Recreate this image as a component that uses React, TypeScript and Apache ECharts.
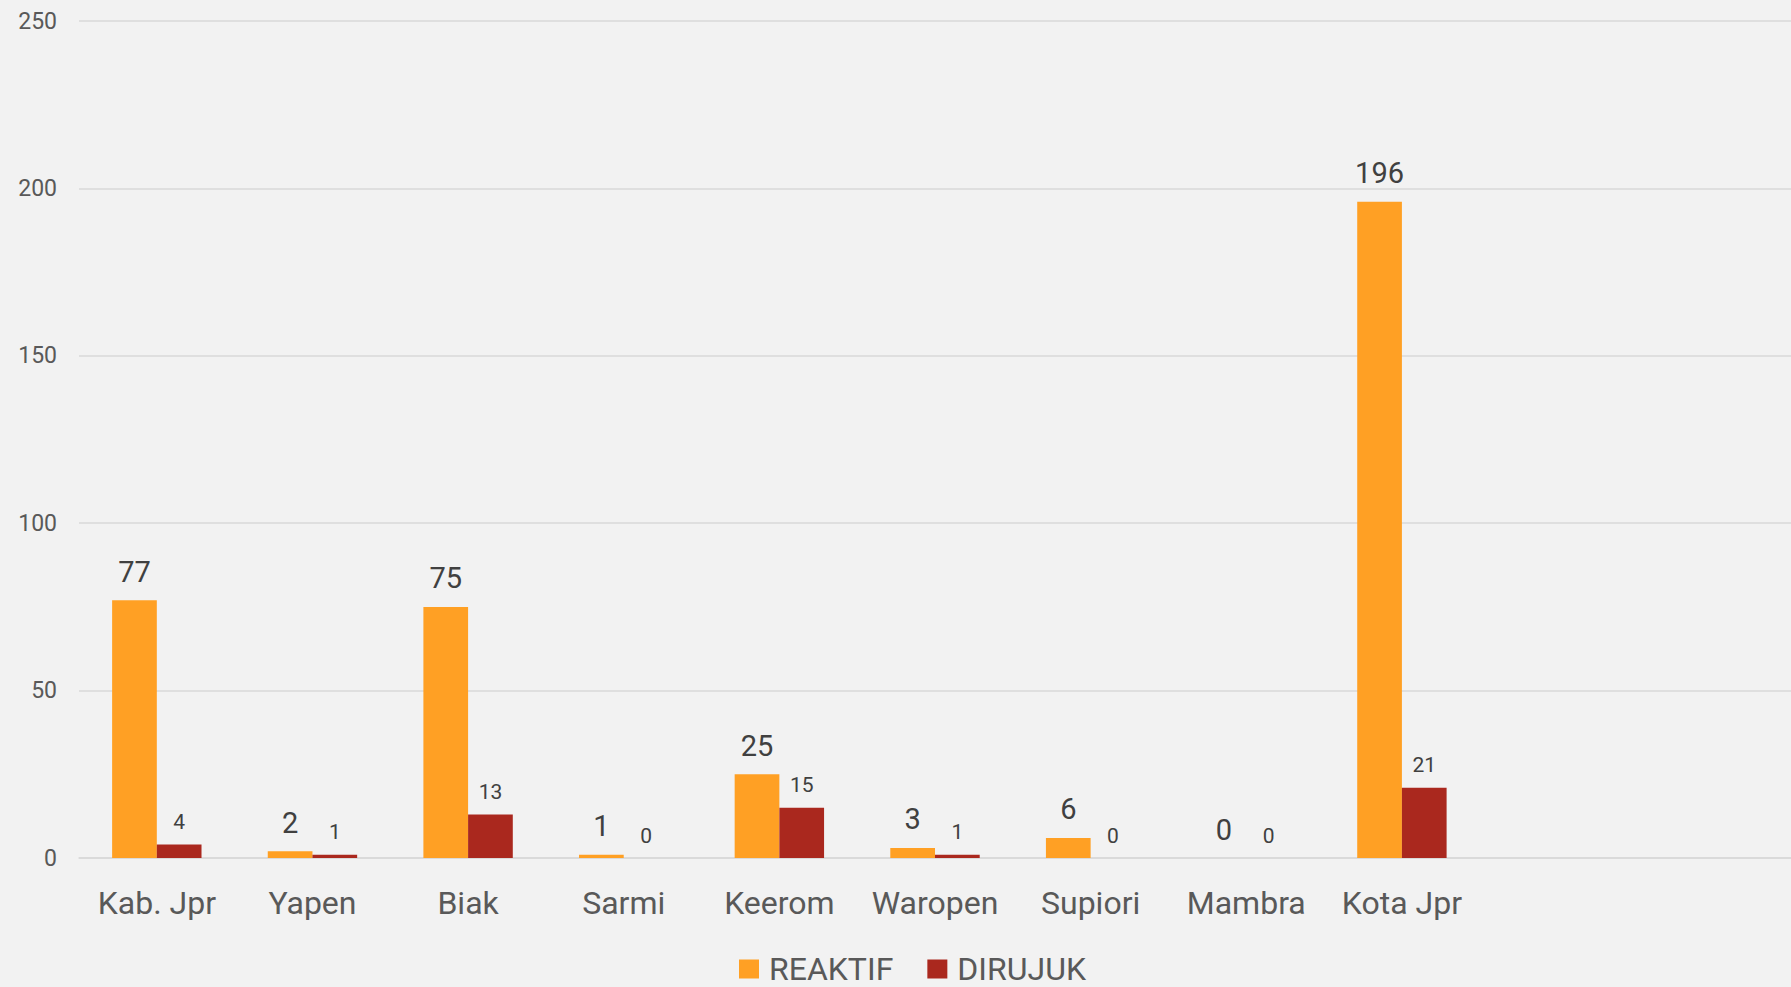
import React, { useEffect, useRef } from "react";
import * as echarts from "echarts";

const categories = ["Kab. Jpr", "Yapen", "Biak", "Sarmi", "Keerom", "Waropen", "Supiori", "Mambra", "Kota Jpr", "", ""];
const reaktif = [77, 2, 75, 1, 25, 3, 6, 0, 196, null, null];
const dirujuk = [4, 1, 13, 0, 15, 1, 0, 0, 21, null, null];
const yTicks = { min: 0, max: 250, interval: 50 };

const FONT = "Roboto, 'Liberation Sans', sans-serif";

export default function App() {
  const ref = useRef<HTMLDivElement>(null);
  useEffect(() => {
    document.body.style.margin = "0";
    document.body.style.background = "#f2f2f2";
    const chart = echarts.init(ref.current!, null, { renderer: "svg" });
    chart.setOption({
      animation: false,
      backgroundColor: "#f2f2f2",
      textStyle: { fontFamily: FONT },
      grid: { left: 79, top: 21, width: 1715, height: 837, containLabel: false },
      legend: {
        left: 734,
        top: 948,
        itemWidth: 20,
        itemHeight: 19,
        itemGap: 34,
        icon: "rect",
        textStyle: { fontSize: 32, color: "#595959", fontFamily: FONT, lineHeight: 30, padding: [0, 0, 0, 5] },
        data: ["REAKTIF", "DIRUJUK"],
      },
      xAxis: {
        type: "category",
        data: categories,
        axisLine: { show: true, lineStyle: { color: "#d9d9d9", width: 1.5 } },
        axisTick: { show: false },
        axisLabel: { fontSize: 32, color: "#595959", margin: 29, fontFamily: FONT, interval: 0 },
      },
      yAxis: {
        type: "value",
        min: yTicks.min,
        max: yTicks.max,
        interval: yTicks.interval,
        axisLine: { show: false },
        axisTick: { show: false },
        splitLine: { lineStyle: { color: "#d9d9d9", width: 1.5 } },
        axisLabel: { fontSize: 23, color: "#595959", margin: 22, fontFamily: FONT },
      },
      series: [
        {
          name: "REAKTIF",
          type: "bar",
          data: reaktif,
          barWidth: 44.7,
          barGap: "0%",
          itemStyle: { color: "#ffa024" },
          label: { show: true, position: "top", distance: 14, fontSize: 29, color: "#404040", fontFamily: FONT },
        },
        {
          name: "DIRUJUK",
          type: "bar",
          data: dirujuk,
          barWidth: 44.7,
          barGap: "0%",
          itemStyle: { color: "#aa281e" },
          label: { show: true, position: "top", distance: 12, fontSize: 21, color: "#404040", fontFamily: FONT },
        },
      ],
    });
    return () => chart.dispose();
  }, []);
  return <div ref={ref} style={{ width: 1791, height: 987 }} />;
}
